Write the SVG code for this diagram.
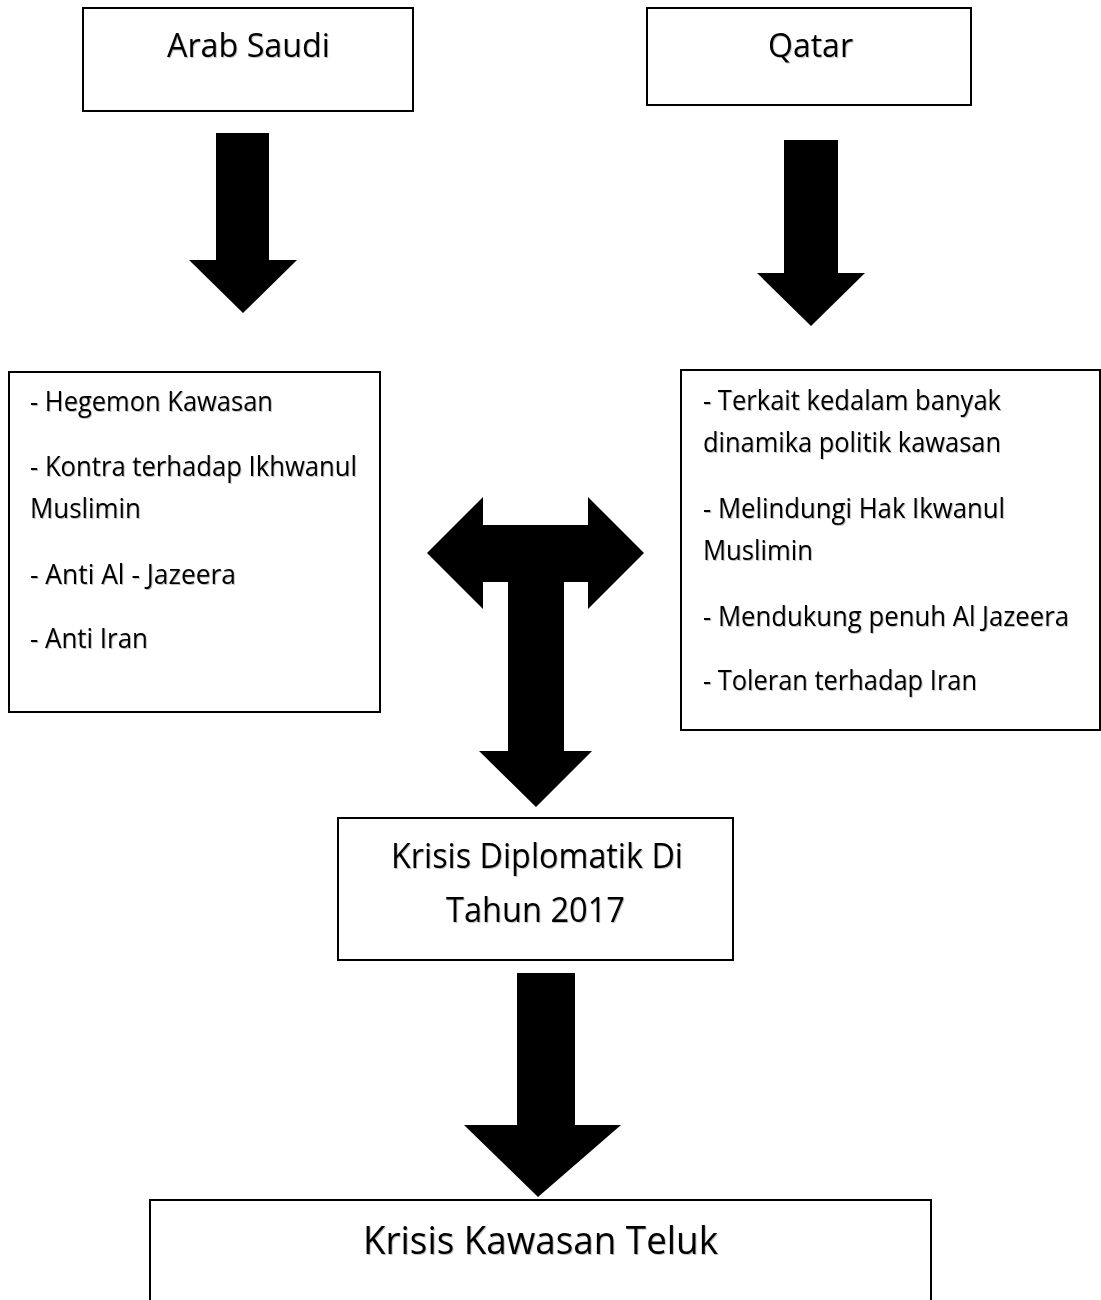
<svg xmlns="http://www.w3.org/2000/svg" width="1101" height="1300" viewBox="0 0 1101 1300">
<style>
.box{fill:#fff;stroke:#000;stroke-width:2}
.arrow{fill:#000}
text{font-family:"Open Sans","Noto Sans","Liberation Sans",sans-serif;fill:#000}
.t30{font-size:32px}
.t26{font-size:27px}
.t32{font-size:34px}
.t36{font-size:39px}
</style>
<defs>
<filter id="sh" x="-5%" y="-20%" width="110%" height="140%">
<feDropShadow dx="1" dy="1" stdDeviation="0.6" flood-color="#000" flood-opacity="0.25"/>
</filter>
</defs>
<g id="connectors">
<polygon class="arrow" points="216,133 269,133 269,260 297,260 243,313 189,260 216,260"/>
<polygon class="arrow" points="784,140 838,140 838,273 865,273 811,326 757,273 784,273"/>
<polygon class="arrow" points="427,553 483,497 483,525 588,525 588,497 644,553 588,609 588,582 564,582 564,751 592,751 536,807 479,751 508,751 508,582 483,582 483,609"/>
<polygon class="arrow" points="517,973 575,973 575,1125 621,1125 538,1197 464,1125 517,1125"/>
</g>
<g id="arab-saudi">
<rect class="box" x="83" y="8" width="330" height="103"/>
<text class="t30" x="167" y="57" textLength="163" lengthAdjust="spacingAndGlyphs" filter="url(#sh)">Arab Saudi</text>
</g>
<g id="qatar">
<rect class="box" x="647" y="8" width="324" height="97"/>
<text class="t30" x="768" y="57" textLength="85" lengthAdjust="spacingAndGlyphs" filter="url(#sh)">Qatar</text>
</g>
<g id="saudi-points">
<rect class="box" x="9" y="372" width="371" height="340"/>
<g class="t26" filter="url(#sh)">
<text x="30" y="411" textLength="243" lengthAdjust="spacingAndGlyphs">- Hegemon Kawasan</text>
<text x="30" y="476" textLength="327" lengthAdjust="spacingAndGlyphs">- Kontra terhadap Ikhwanul</text>
<text x="30" y="518" textLength="111" lengthAdjust="spacingAndGlyphs">Muslimin</text>
<text x="30" y="584" textLength="206" lengthAdjust="spacingAndGlyphs">- Anti Al - Jazeera</text>
<text x="30" y="648" textLength="118" lengthAdjust="spacingAndGlyphs">- Anti Iran</text>
</g>
</g>
<g id="qatar-points">
<rect class="box" x="681" y="370" width="419" height="360"/>
<g class="t26" filter="url(#sh)">
<text x="703" y="410" textLength="298" lengthAdjust="spacingAndGlyphs">- Terkait kedalam banyak</text>
<text x="703" y="452" textLength="298" lengthAdjust="spacingAndGlyphs">dinamika politik kawasan</text>
<text x="703" y="518" textLength="302" lengthAdjust="spacingAndGlyphs">- Melindungi Hak Ikwanul</text>
<text x="703" y="560" textLength="110" lengthAdjust="spacingAndGlyphs">Muslimin</text>
<text x="703" y="626" textLength="366" lengthAdjust="spacingAndGlyphs">- Mendukung penuh Al Jazeera</text>
<text x="703" y="690" textLength="274" lengthAdjust="spacingAndGlyphs">- Toleran terhadap Iran</text>
</g>
</g>
<g id="krisis-diplomatik">
<rect class="box" x="338" y="818" width="395" height="142"/>
<g class="t32" filter="url(#sh)">
<text x="391" y="868" textLength="292" lengthAdjust="spacingAndGlyphs">Krisis Diplomatik Di</text>
<text x="446" y="922" textLength="179" lengthAdjust="spacingAndGlyphs">Tahun 2017</text>
</g>
</g>
<g id="krisis-kawasan-teluk">
<path class="box" d="M150,1302 V1200 H931 V1302"/>
<text class="t36" x="363" y="1254" textLength="355" lengthAdjust="spacingAndGlyphs" filter="url(#sh)">Krisis Kawasan Teluk</text>
</g>
</svg>
